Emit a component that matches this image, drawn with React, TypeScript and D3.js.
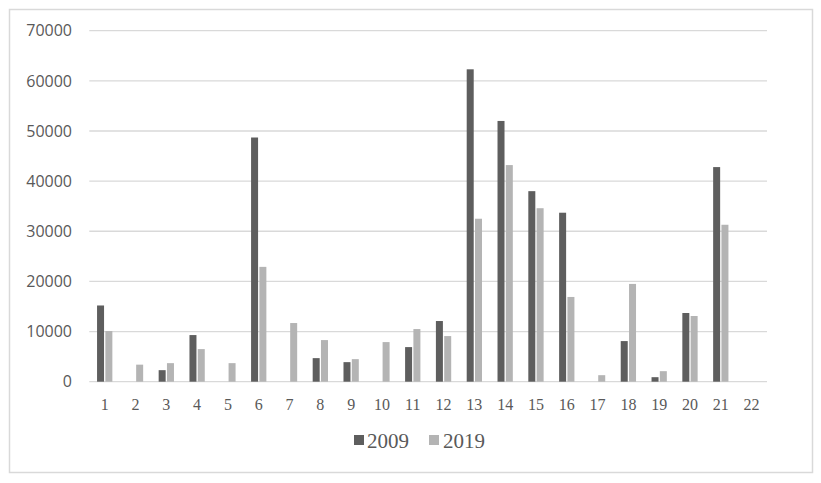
import React from "react";
import * as d3 from "d3";

const categories = Array.from({ length: 22 }, (_, i) => String(i + 1));
const series2009 = [15200, 0, 2300, 9300, 0, 48700, 0, 4700, 3900, 0, 6900, 12100, 62300, 52000, 38000, 33700, 0, 8100, 900, 13700, 42800, 0];
const series2019 = [10100, 3400, 3700, 6500, 3700, 22900, 11700, 8300, 4500, 7900, 10500, 9100, 32500, 43200, 34600, 16900, 1300, 19500, 2100, 13100, 31300, 0];
const yTicks = [0, 10000, 20000, 30000, 40000, 50000, 60000, 70000];
const seriesNames = ["2009", "2019"];
const colors = ["#5e5e5e", "#b4b4b4"];

export default function App() {
  const W = 821, H = 483;
  const left = 89.3, right = 767, top = 30.7, bottom = 381.7;
  const x = d3.scaleBand<string>().domain(categories).range([left, right]).padding(0);
  const y = d3.scaleLinear().domain([0, 70000]).range([bottom, top]);
  const bw = 7, gap = 1.3;
  const sans = "'Open Sans', sans-serif";
  const serif = "'Liberation Serif', 'Times New Roman', serif";
  return (
    <svg width={W} height={H} style={{ position: "absolute", left: 0, top: 0, background: "#fff" }}>
      <rect x={0} y={0} width={W} height={H} fill="#fff" />
      <rect x={9.5} y={9.5} width={803} height={463} fill="none" stroke="#d9d9d9" strokeWidth={1.5} />
      {yTicks.map((t) => (
        <g key={t}>
          <line x1={left} x2={right} y1={y(t)} y2={y(t)} stroke="#d9d9d9" strokeWidth={1.3} />
          <text x={72} y={y(t)} dy="0.36em" textAnchor="end" fontFamily={sans} fontSize={16} fill="#595959">
            {t}
          </text>
        </g>
      ))}
      {categories.map((c, i) => {
        const cx = (x(c) as number) + x.bandwidth() / 2;
        return (
          <g key={c}>
            {series2009[i] > 0 && (
              <rect x={cx - gap / 2 - bw} y={y(series2009[i])} width={bw} height={bottom - y(series2009[i])} fill={colors[0]} />
            )}
            {series2019[i] > 0 && (
              <rect x={cx + gap / 2} y={y(series2019[i])} width={bw} height={bottom - y(series2019[i])} fill={colors[1]} />
            )}
            <text x={cx} y={404} dy="0.35em" textAnchor="middle" fontFamily={serif} fontSize={16} fill="#595959">
              {c}
            </text>
          </g>
        );
      })}
      <g>
        <rect x={354} y={435} width={10} height={10} fill={colors[0]} />
        <text x={367} y={441} dy="0.35em" fontFamily={serif} fontSize={21} fill="#595959">{seriesNames[0]}</text>
        <rect x={429} y={435} width={10} height={10} fill={colors[1]} />
        <text x={443} y={441} dy="0.35em" fontFamily={serif} fontSize={21} fill="#595959">{seriesNames[1]}</text>
      </g>
    </svg>
  );
}
